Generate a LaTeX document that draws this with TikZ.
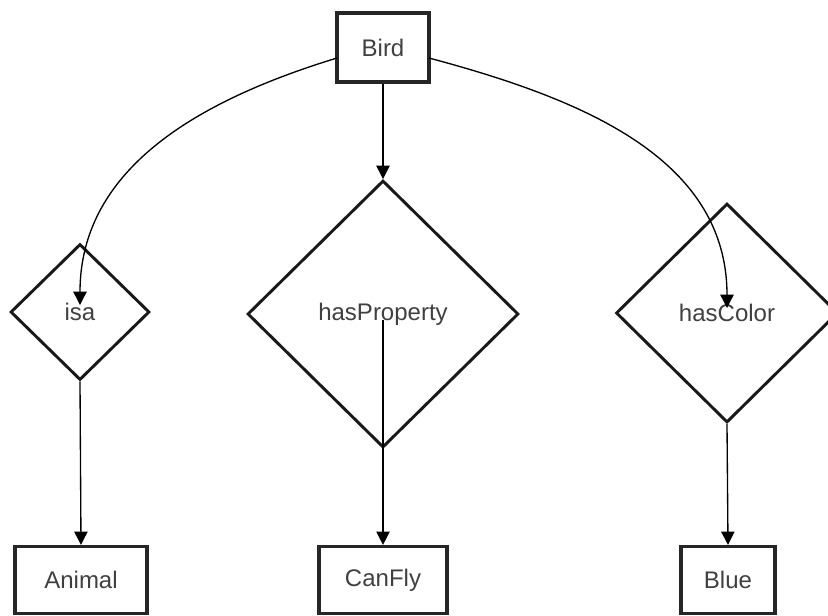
\documentclass[tikz,border=0pt]{standalone}
\usepackage{fontspec}
\setmainfont{Liberation Sans}
\usetikzlibrary{shapes.geometric,arrows.meta}

\tikzset{
  concept/.style={draw=black!85, line width=2.4pt, fill=white, inner sep=0pt, text=black!75, font=\fontsize{18pt}{20pt}\selectfont},
  relation/.style={draw=black!90, diamond, line width=2.2pt, fill=white, inner sep=0pt, text=black!75, font=\fontsize{18pt}{20pt}\selectfont},
  link/.style={line width=1pt, -{Triangle[length=10pt,width=10pt]}}
}

\begin{document}
\begin{tikzpicture}[x=0.75pt, y=-0.75pt]
\useasboundingbox (0,0) rectangle (828,615);
% relations
\node [relation, minimum width=139*0.75pt, minimum height=136*0.75pt] (isa) at (80,312) {isa};
\node [relation, minimum width=271*0.75pt, minimum height=267*0.75pt] (hasprop) at (383,314) {hasProperty};
\node [relation, minimum width=222*0.75pt, minimum height=219*0.75pt] (hascolor) at (727,313) {hasColor};
% concepts
\node [concept, minimum width=92*0.75pt, minimum height=69*0.75pt] (bird) at (383,47.5) {Bird};
\node [concept, minimum width=132*0.75pt, minimum height=67*0.75pt] (animal) at (81,580) {Animal};
\node [concept, minimum width=128*0.75pt, minimum height=67*0.75pt] (canfly) at (383,580) {CanFly};
\node [concept, minimum width=94*0.75pt, minimum height=67*0.75pt] (blue) at (728,580) {Blue};
% end points inside the diamonds
\coordinate (isaend) at (80,305);
\coordinate (colorend) at (727,308);
\coordinate (propstart) at (383,320);
\coordinate (birdleft) at (337,58);
\coordinate (birdright) at (429,58);
% connectors
\draw [link] (bird.south) -- (hasprop.north);
\draw [link] (birdleft) to [out=197, in=90] (isaend);
\draw [link] (birdright) to [out=-15, in=90] (colorend);
\draw [link] (isa.south) -- (animal.north);
\draw [link] (propstart) -- (canfly.north);
\draw [link] (hascolor.south) -- (blue.north);
\end{tikzpicture}
\end{document}
